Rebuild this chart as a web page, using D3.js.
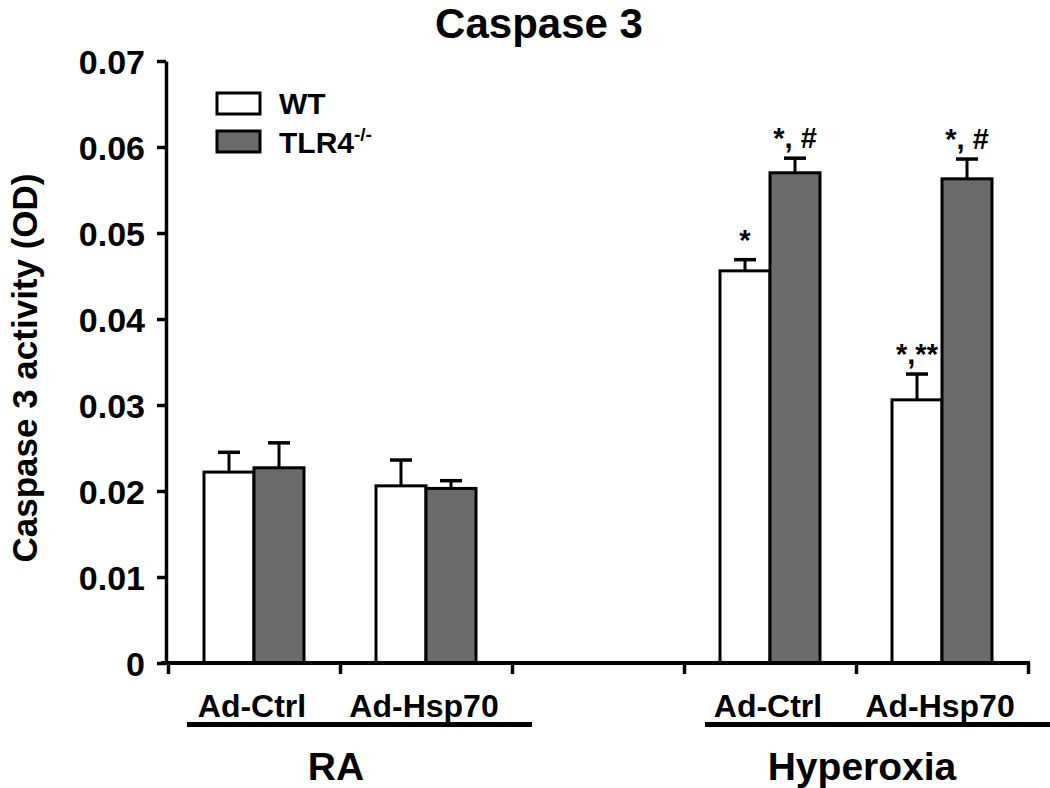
<!DOCTYPE html>
<html>
<head>
<meta charset="utf-8">
<script src="https://cdn.jsdelivr.net/npm/d3@7"></script>
<style>
  html, body { margin: 0; padding: 0; background: #fff; }
  text { font-family: "Liberation Sans", Arial, sans-serif; font-weight: bold; fill: #000; }
</style>
</head>
<body>
<svg id="chart" width="1050" height="788"></svg>
<script>
// ---- Data ----
const groups = ["RA", "Hyperoxia"];
const treatments = ["Ad-Ctrl", "Ad-Hsp70"];
const slots = ["RA|Ad-Ctrl", "RA|Ad-Hsp70", "", "Hyperoxia|Ad-Ctrl", "Hyperoxia|Ad-Hsp70"];
const barSlots = ["RA|Ad-Ctrl", "RA|Ad-Hsp70", "Hyperoxia|Ad-Ctrl", "Hyperoxia|Ad-Hsp70"];
const series = ["WT", "TLR4"];
const wtValues = [0.0222, 0.0206, 0.0456, 0.0306];
const wtErrors = [0.0023, 0.0030, 0.0013, 0.0030];
const tlr4Values = [0.0227, 0.0203, 0.0570, 0.0563];
const tlr4Errors = [0.0029, 0.0009, 0.0017, 0.0023];
const wtAnnot = ["", "", "*", "*,**"];
const tlr4Annot = ["", "", "*, #", "*, #"];
const yTicks = [0, 0.01, 0.02, 0.03, 0.04, 0.05, 0.06, 0.07];
const yTickLabels = ["0", "0.01", "0.02", "0.03", "0.04", "0.05", "0.06", "0.07"];
const title = "Caspase 3";
const yTitle = "Caspase 3 activity (OD)";
const colors = { WT: "#ffffff", TLR4: "#6b6b6b" };

// ---- Layout ----
const svg = d3.select("#chart");
const x0 = 168, x1 = 1028, yTop = 61, yBot = 663;

const y = d3.scaleLinear().domain([0, 0.07]).range([yBot, yTop]);
const x = d3.scaleBand().domain(slots).range([x0, x1]).padding(0);
const xs = d3.scaleBand().domain(series).range([0, x.bandwidth()]).paddingInner(0).paddingOuter(0.72);
const xTickScale = d3.scaleLinear().domain([0, slots.length]).range([x0, x1]);

// Title
svg.append("text").attr("x", 539).attr("y", 38).attr("text-anchor", "middle")
  .style("font-size", "42px").text(title);

// Y axis label
svg.append("text").attr("transform", "translate(37,368) rotate(-90)")
  .attr("text-anchor", "middle").style("font-size", "35px").text(yTitle);

// Data rows
const rows = barSlots.map((s, i) => ({
  slot: s,
  bars: [
    { key: "WT", v: wtValues[i], e: wtErrors[i], a: wtAnnot[i] },
    { key: "TLR4", v: tlr4Values[i], e: tlr4Errors[i], a: tlr4Annot[i] }
  ]
}));

const g = svg.append("g");
const grp = g.selectAll("g.slot").data(rows).join("g")
  .attr("transform", d => `translate(${x(d.slot)},0)`);

// Error bars (drawn behind bars)
grp.selectAll("line.err").data(d => d.bars).join("line")
  .attr("x1", d => xs(d.key) + xs.bandwidth() / 2)
  .attr("x2", d => xs(d.key) + xs.bandwidth() / 2)
  .attr("y1", d => y(d.v)).attr("y2", d => y(d.v + d.e))
  .attr("stroke", "#000").attr("stroke-width", 3);
grp.selectAll("line.cap").data(d => d.bars).join("line")
  .attr("x1", d => xs(d.key) + xs.bandwidth() / 2 - 11)
  .attr("x2", d => xs(d.key) + xs.bandwidth() / 2 + 11)
  .attr("y1", d => y(d.v + d.e)).attr("y2", d => y(d.v + d.e))
  .attr("stroke", "#000").attr("stroke-width", 3.5);

grp.selectAll("rect").data(d => d.bars).join("rect")
  .attr("x", d => xs(d.key))
  .attr("width", xs.bandwidth())
  .attr("y", d => y(d.v))
  .attr("height", d => y(0) - y(d.v))
  .attr("fill", d => colors[d.key])
  .attr("stroke", "#000").attr("stroke-width", 3);

grp.selectAll("text.annot").data(d => d.bars.filter(b => b.a)).join("text")
  .attr("class", "annot")
  .attr("x", d => xs(d.key) + xs.bandwidth() / 2)
  .attr("y", d => y(d.v + d.e) - 10)
  .attr("text-anchor", "middle").style("font-size", "29px")
  .text(d => d.a);

// Y axis
const yAxis = d3.axisLeft(y).tickValues(yTicks).tickFormat((d, i) => yTickLabels[i])
  .tickSize(9).tickPadding(12).tickSizeOuter(0);
const ya = svg.append("g").attr("transform", "translate(166,0)").call(yAxis);
ya.select(".domain").attr("stroke", "#000").attr("stroke-width", 3.5);
ya.selectAll(".tick line").attr("stroke", "#000").attr("stroke-width", 3.5);
ya.selectAll(".tick text").style("font-size", "34px").attr("font-family", null).attr("dy", "0.36em");

// X axis (ticks at band edges)
const xAxis = d3.axisBottom(xTickScale).ticks(slots.length).tickFormat("").tickSize(11).tickSizeOuter(0);
const xa = svg.append("g").attr("transform", `translate(0,${yBot})`).call(xAxis);
xa.select(".domain").attr("d", `M161,0H1030`).attr("stroke", "#000").attr("stroke-width", 4);
xa.selectAll(".tick line").attr("stroke", "#000").attr("stroke-width", 3.5);

// Treatment labels
svg.selectAll("text.treat").data(barSlots).join("text")
  .attr("class", "treat")
  .attr("x", d => x(d) + x.bandwidth() / 2 - 2)
  .attr("y", 717).attr("text-anchor", "middle").style("font-size", "32px")
  .text(d => d.split("|")[1]);

// Group underlines and labels
const groupLines = { "RA": [187, 532], "Hyperoxia": [705, 1052] };
const groupCenters = { "RA": 336, "Hyperoxia": 862 };
groups.forEach(gname => {
  svg.append("line").attr("x1", groupLines[gname][0]).attr("x2", groupLines[gname][1])
    .attr("y1", 724.5).attr("y2", 724.5).attr("stroke", "#000").attr("stroke-width", 5);
  svg.append("text").attr("x", groupCenters[gname]).attr("y", 780)
    .attr("text-anchor", "middle").style("font-size", "39px").text(gname);
});

// Legend
const legend = svg.append("g");
series.forEach((s, i) => {
  legend.append("rect").attr("x", 217).attr("y", 93 + i * 38).attr("width", 43).attr("height", 21)
    .attr("fill", colors[s]).attr("stroke", "#000").attr("stroke-width", 3);
});
legend.append("text").attr("x", 279).attr("y", 114).style("font-size", "30px").text("WT");
const t2 = legend.append("text").attr("x", 279).attr("y", 153).style("font-size", "30px");
t2.append("tspan").text("TLR4");
t2.append("tspan").attr("dy", -12).style("font-size", "19px").text("-/-");
</script>
</body>
</html>
